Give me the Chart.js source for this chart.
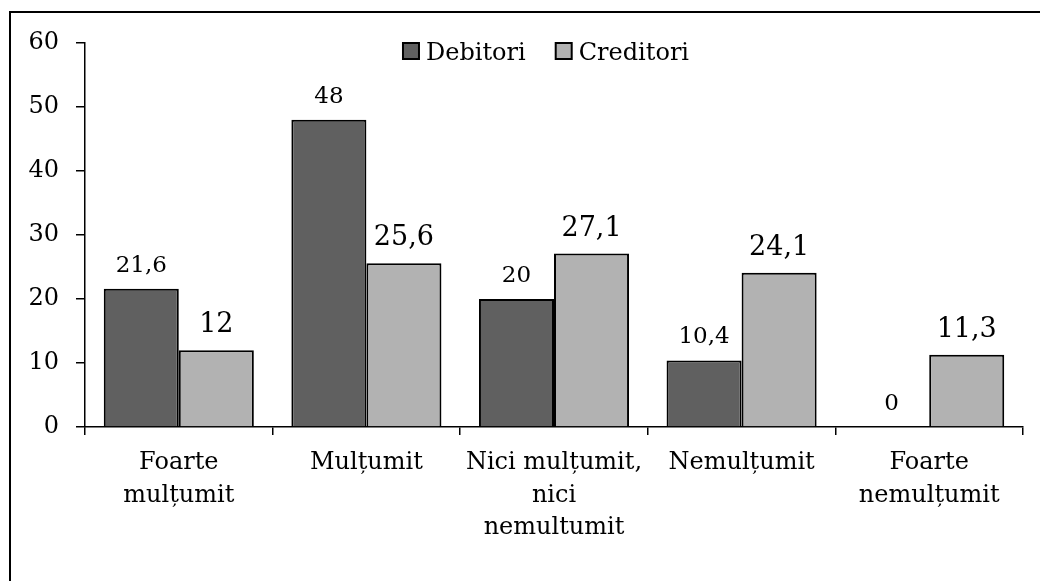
<!DOCTYPE html>
<html>
<head>
<meta charset="utf-8">
<script src="https://cdn.jsdelivr.net/npm/chart.js@4.4.1/dist/chart.umd.min.js"></script>
<style>
    body { margin: 0; background: #fff; overflow: hidden; }
    #wrap { position: relative; width: 1040px; height: 581px; }
    #frame {
        position: absolute; left: 9px; top: 11px; width: 1200px; height: 800px;
        border-left: 2px solid #000; border-top: 2px solid #000; pointer-events: none;
    }
</style>
</head>
<body>
<div id="wrap">
    <canvas id="chart" width="1040" height="581"></canvas>
    <div id="frame"></div>
</div>
<script>
const categories = [
    ['Foarte', 'mulțumit'],
    'Mulțumit',
    ['Nici mulțumit,', 'nici', 'nemultumit'],
    'Nemulțumit',
    ['Foarte', 'nemulțumit']
];
const debitori = [21.6, 48, 20, 10.4, 0];
const creditori = [12, 25.6, 27.1, 24.1, 11.3];
const yTicks = [0, 10, 20, 30, 40, 50, 60];

const FONT = '"DejaVu Serif", serif';

function fmt(v) {
    return String(v).replace('.', ',');
}

// value labels above each bar
const barLabels = {
    id: 'barLabels',
    afterDatasetsDraw(chart) {
        const ctx = chart.ctx;
        ctx.save();
        ctx.fillStyle = '#000';
        ctx.textAlign = 'center';
        ctx.textBaseline = 'alphabetic';
        chart.data.datasets.forEach((ds, i) => {
            const size = i === 0 ? 23 : 27;
            const gap = i === 0 ? 17 : 18;
            ctx.font = size + 'px ' + FONT;
            chart.getDatasetMeta(i).data.forEach((bar, j) => {
                ctx.fillText(fmt(ds.data[j]), bar.x, bar.y - gap);
            });
        });
        ctx.restore();
    }
};

// legend drawn inside the plot, top centre
const topLegend = {
    id: 'topLegend',
    afterDraw(chart) {
        const ctx = chart.ctx;
        const area = chart.chartArea;
        const box = 16, textGap = 7, itemGap = 30, baseline = 60;
        ctx.save();
        ctx.font = '24px ' + FONT;
        const items = chart.data.datasets.map(ds => ({
            text: ds.label, color: ds.backgroundColor, w: ctx.measureText(ds.label).width
        }));
        let total = 0;
        items.forEach((it, k) => { total += box + textGap + it.w + (k ? itemGap : 0); });
        let x = (area.left + area.right) / 2 - 8 - total / 2;
        items.forEach(it => {
            ctx.fillStyle = it.color;
            ctx.fillRect(x, baseline - 17, box, box);
            ctx.strokeStyle = '#000';
            ctx.lineWidth = 2;
            ctx.strokeRect(x, baseline - 17, box, box);
            ctx.fillStyle = '#000';
            ctx.textAlign = 'left';
            ctx.textBaseline = 'alphabetic';
            ctx.fillText(it.text, x + box + textGap, baseline);
            x += box + textGap + it.w + itemGap;
        });
        ctx.restore();
    }
};

new Chart(document.getElementById('chart'), {
    type: 'bar',
    data: {
        labels: categories,
        datasets: [{
            label: 'Debitori',
            data: debitori,
            backgroundColor: '#606060',
            borderColor: '#000',
            borderWidth: 2,
            borderSkipped: 'bottom'
        }, {
            label: 'Creditori',
            data: creditori,
            backgroundColor: '#b2b2b2',
            borderColor: '#000',
            borderWidth: 2,
            borderSkipped: 'bottom'
        }]
    },
    options: {
        responsive: false,
        animation: false,
        layout: { padding: { top: 43, right: 17, left: 0, bottom: 0 } },
        datasets: { bar: { categoryPercentage: 0.8, barPercentage: 1.0 } },
        plugins: {
            legend: { display: false },
            tooltip: { enabled: false }
        },
        scales: {
            x: {
                afterFit(scale) { scale.height = 154; },
                grid: {
                    offset: true,
                    drawOnChartArea: false,
                    tickLength: 8,
                    color: '#000',
                    lineWidth: 1.5
                },
                border: { color: '#000', width: 1.5 },
                ticks: {
                    color: '#000',
                    padding: 12,
                    maxRotation: 0,
                    autoSkip: false,
                    font: { family: FONT, size: 24, lineHeight: 1.35 }
                }
            },
            y: {
                min: 0,
                max: 60,
                afterFit(scale) { scale.width = 85; },
                afterBuildTicks(scale) { scale.ticks = yTicks.map(v => ({ value: v })); },
                grid: {
                    drawOnChartArea: false,
                    tickLength: 9,
                    color: '#000',
                    lineWidth: 1.5
                },
                border: { color: '#000', width: 1.5 },
                ticks: {
                    color: '#000',
                    padding: 17,
                    font: { family: FONT, size: 24 }
                }
            }
        }
    },
    plugins: [barLabels, topLegend]
});
</script>
</body>
</html>
